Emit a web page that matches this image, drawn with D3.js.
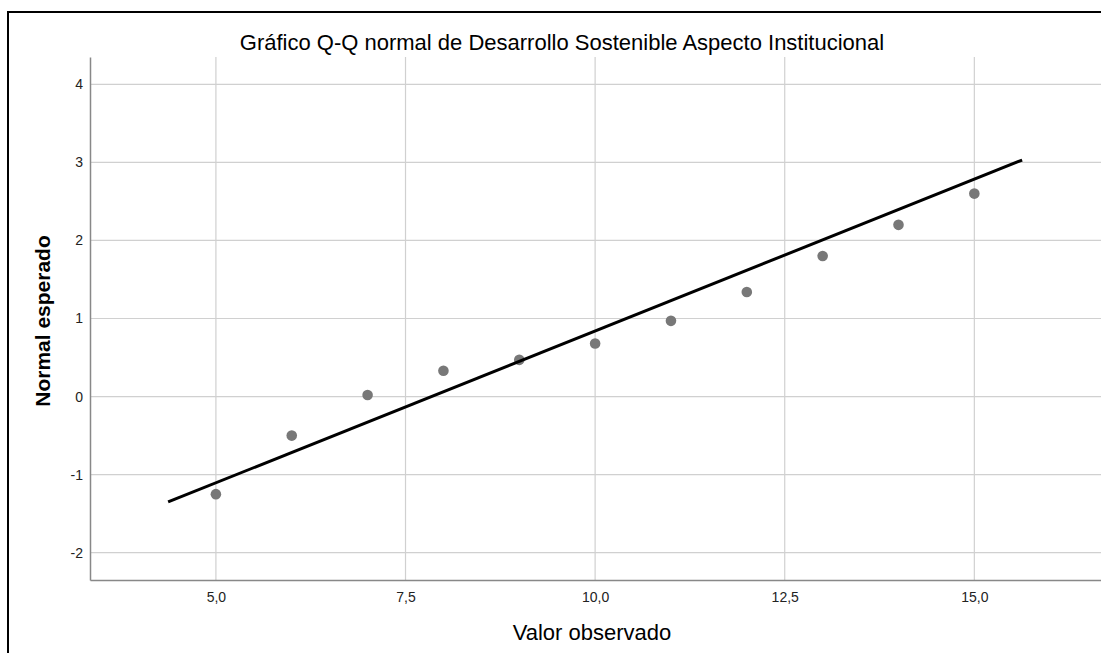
<!DOCTYPE html>
<html><head><meta charset="utf-8">
<script src="https://cdn.jsdelivr.net/npm/d3@7/dist/d3.min.js"></script>
<style>body{margin:0;background:#fff}svg{display:block}</style>
</head><body>
<svg id="c" width="1101" height="653"></svg>
<script>
const observed = [5, 6, 7, 8, 9, 10, 11, 12, 13, 14, 15];
const expected = [-1.25, -0.5, 0.02, 0.33, 0.47, 0.68, 0.97, 1.34, 1.80, 2.20, 2.60];
const lineX = [4.37, 15.63];
const lineY = [-1.35, 3.03];
const xTicks = [5, 7.5, 10, 12.5, 15];
const yTicks = [-2, -1, 0, 1, 2, 3, 4];
const title = "Gráfico Q-Q normal de Desarrollo Sostenible Aspecto Institucional";
const xLabel = "Valor observado";
const yLabel = "Normal esperado";

const svg = d3.select("#c");
const L = 90, R = 1101, T = 57, B = 580;
const x = d3.scaleLinear().domain([3.34, 16.67]).range([L, R]);
const y = d3.scaleLinear().domain([-2.35, 4.35]).range([B, T]);
const font = "'Liberation Sans', Arial, sans-serif";

// outer frame
svg.append("line").attr("x1", 8).attr("x2", 1101).attr("y1", 12).attr("y2", 12).attr("stroke", "#000").attr("stroke-width", 2);
svg.append("line").attr("x1", 8).attr("x2", 8).attr("y1", 11).attr("y2", 653).attr("stroke", "#000").attr("stroke-width", 2);

// gridlines
svg.append("g").selectAll("line").data(xTicks).join("line")
  .attr("x1", d => x(d)).attr("x2", d => x(d)).attr("y1", T).attr("y2", B)
  .attr("stroke", "#d0d0d0").attr("stroke-width", 1.2);
svg.append("g").selectAll("line").data(yTicks).join("line")
  .attr("x1", L).attr("x2", R).attr("y1", d => y(d)).attr("y2", d => y(d))
  .attr("stroke", "#d0d0d0").attr("stroke-width", 1.2);

// axes
const fmt = d => d3.format(".1f")(d).replace(".", ",");
const gx = svg.append("g").attr("transform", `translate(0,${B})`)
  .call(d3.axisBottom(x).tickValues(xTicks).tickFormat(fmt).tickSize(0).tickPadding(12));
gx.select(".domain").attr("stroke", "#888").attr("stroke-width", 1.5);
gx.selectAll("text").attr("font-family", font).attr("font-size", 14).attr("fill", "#222");

const gy = svg.append("g").attr("transform", `translate(${L},0)`)
  .call(d3.axisLeft(y).tickValues(yTicks).tickFormat(d => String(d)).tickSize(0).tickPadding(7));
gy.select(".domain").attr("stroke", "#888").attr("stroke-width", 1.5);
gy.selectAll("text").attr("font-family", font).attr("font-size", 14).attr("fill", "#222");

// points
svg.append("g").selectAll("circle").data(observed).join("circle")
  .attr("cx", d => x(d)).attr("cy", (d, i) => y(expected[i])).attr("r", 5.3)
  .attr("fill", "#787878");

// reference line
svg.append("line").attr("x1", x(lineX[0])).attr("y1", y(lineY[0]))
  .attr("x2", x(lineX[1])).attr("y2", y(lineY[1]))
  .attr("stroke", "#000").attr("stroke-width", 3);

// texts
svg.append("text").attr("x", 562).attr("y", 50).attr("text-anchor", "middle")
  .attr("font-family", font).attr("font-size", 22).attr("fill", "#000").text(title);
svg.append("text").attr("x", 592).attr("y", 640).attr("text-anchor", "middle")
  .attr("font-family", font).attr("font-size", 22).attr("fill", "#000").text(xLabel);
svg.append("text").attr("transform", "translate(50,321) rotate(-90)").attr("text-anchor", "middle")
  .attr("font-family", font).attr("font-size", 21).attr("font-weight", "bold").attr("fill", "#000").text(yLabel);
</script>
</body></html>
